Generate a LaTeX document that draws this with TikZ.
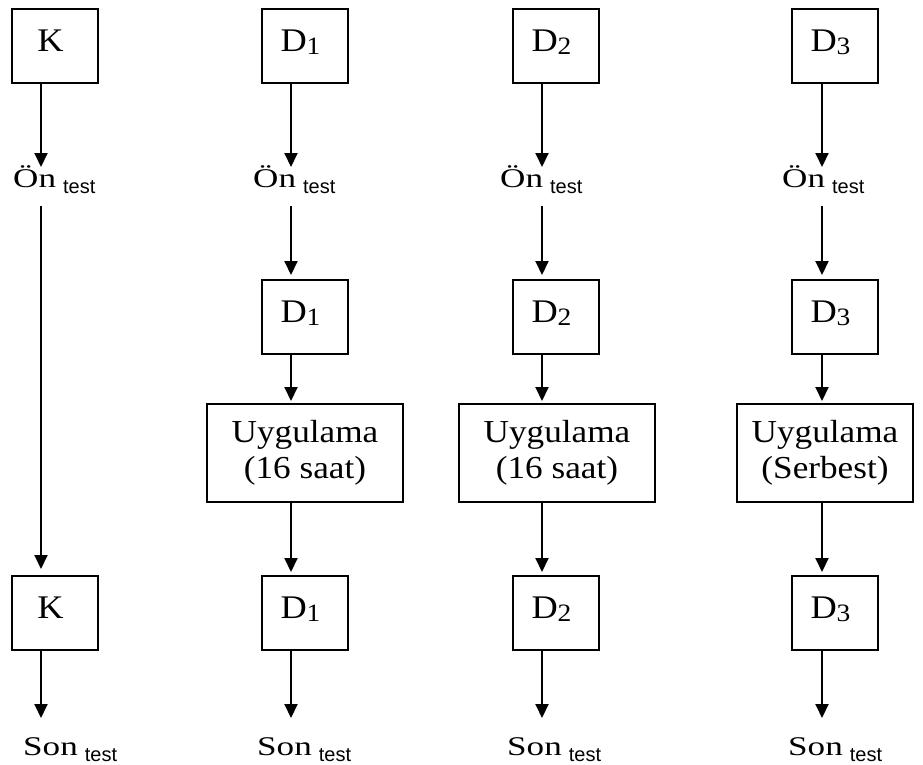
\documentclass[tikz,border=0pt]{standalone}
\usepackage{fontspec}
\setmainfont[FakeStretch=1.1]{Liberation Serif}
\newfontfamily\widefont[FakeStretch=1.3]{Liberation Serif}
\newfontfamily\subfont{Liberation Sans}
\usetikzlibrary{arrows.meta,calc}
\newcommand\bt[1]{\raisebox{0pt}[23pt][12pt]{#1}\hspace*{9pt}}
\newcommand\Dn[1]{D\raisebox{-3pt}{\fontsize{25}{25}\selectfont #1}}
\newcommand\sub{\hspace{7pt}\raisebox{-6pt}{\subfont\fontsize{20}{20}\selectfont test}}
\begin{document}
\begin{tikzpicture}[x=1pt,y=-1pt,
  box/.style={draw,line width=2pt,minimum width=86pt,minimum height=74pt,inner sep=0pt,font=\fontsize{33}{36}\selectfont},
  ubox/.style={draw,line width=2pt,minimum height=98pt,inner sep=0pt,align=center,font=\fontsize{32}{36}\selectfont},
  lbl/.style={anchor=base west,inner sep=0pt,font=\widefont\fontsize{27}{30}\selectfont},
  arr/.style={line width=2pt,-{Triangle[width=13pt,length=14pt]}}]
\useasboundingbox (0,0) rectangle (923,765);
% arrow columns
\coordinate (c1) at (41,0);
\coordinate (c2) at (291,0);
\coordinate (c3) at (542,0);
\coordinate (c4) at (822,0);
% column 1
\node[box] (k1) at (55,46) {\bt{K}};
\node[lbl] (o1) at (13,187) {Ön\sub};
\node[box] (k2) at (55,613) {\bt{K}};
\node[lbl] (s1) at (23,755) {Son\sub};
% column 2
\node[box] (a1) at (305,46) {\bt{\Dn{1}}};
\node[lbl] (o2) at (253,187) {Ön\sub};
\node[box] (a2) at (305,317) {\bt{\Dn{1}}};
\node[ubox,minimum width=196pt] (u2) at (305,453) {Uygulama\\(16 saat)};
\node[box] (a3) at (305,613) {\bt{\Dn{1}}};
\node[lbl] (s2) at (257,755) {Son\sub};
% column 3
\node[box] (b1) at (556,46) {\bt{\Dn{2}}};
\node[lbl] (o3) at (500,187) {Ön\sub};
\node[box] (b2) at (556,317) {\bt{\Dn{2}}};
\node[ubox,minimum width=196pt] (u3) at (557,453) {Uygulama\\(16 saat)};
\node[box] (b3) at (556,613) {\bt{\Dn{2}}};
\node[lbl] (s3) at (507,755) {Son\sub};
% column 4
\node[box] (e1) at (835,46) {\bt{\Dn{3}}};
\node[lbl] (o4) at (782,187) {Ön\sub};
\node[box] (e2) at (835,317) {\bt{\Dn{3}}};
\node[ubox,minimum width=176pt] (u4) at (825,453) {Uygulama\\(Serbest)};
\node[box] (e3) at (835,613) {\bt{\Dn{3}}};
\node[lbl] (s4) at (788,755) {Son\sub};
% arrows column 1
\draw[arr] (k1.south -| c1) -- ($(o1.base -| c1)+(0,-20)$);
\draw[arr] ($(o1.base -| c1)+(0,19)$) -- ($(k2.north -| c1)+(0,-6)$);
\draw[arr] (k2.south -| c1) -- ($(s1.base -| c1)+(0,-37)$);
% arrows column 2
\draw[arr] (a1.south -| c2) -- ($(o2.base -| c2)+(0,-20)$);
\draw[arr] ($(o2.base -| c2)+(0,19)$) -- ($(a2.north -| c2)+(0,-4)$);
\draw[arr] (a2.south -| c2) -- ($(u2.north -| c2)+(0,-2)$);
\draw[arr] (u2.south -| c2) -- ($(a3.north -| c2)+(0,-3)$);
\draw[arr] (a3.south -| c2) -- ($(s2.base -| c2)+(0,-37)$);
% arrows column 3
\draw[arr] (b1.south -| c3) -- ($(o3.base -| c3)+(0,-20)$);
\draw[arr] ($(o3.base -| c3)+(0,19)$) -- ($(b2.north -| c3)+(0,-4)$);
\draw[arr] (b2.south -| c3) -- ($(u3.north -| c3)+(0,-2)$);
\draw[arr] (u3.south -| c3) -- ($(b3.north -| c3)+(0,-3)$);
\draw[arr] (b3.south -| c3) -- ($(s3.base -| c3)+(0,-37)$);
% arrows column 4
\draw[arr] (e1.south -| c4) -- ($(o4.base -| c4)+(0,-20)$);
\draw[arr] ($(o4.base -| c4)+(0,19)$) -- ($(e2.north -| c4)+(0,-4)$);
\draw[arr] (e2.south -| c4) -- ($(u4.north -| c4)+(0,-2)$);
\draw[arr] (u4.south -| c4) -- ($(e3.north -| c4)+(0,-3)$);
\draw[arr] (e3.south -| c4) -- ($(s4.base -| c4)+(0,-37)$);
\end{tikzpicture}
\end{document}
